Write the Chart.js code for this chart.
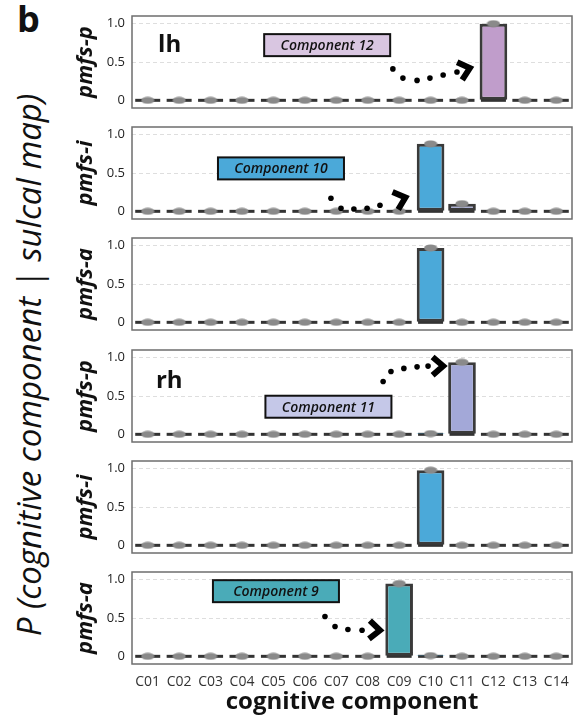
<!DOCTYPE html>
<html lang="en">
<head>
<meta charset="UTF-8">
<title>P (cognitive component | sulcal map)</title>
<script src="https://cdn.jsdelivr.net/npm/chart.js@4.4.0/dist/chart.umd.min.js"></script>
<style>
  html, body { margin: 0; padding: 0; background: #fff; }
  body { width: 580px; height: 717px; position: relative; overflow: hidden; font-family: 'Open Sans', sans-serif; color: #111; }
  canvas.panel { position: absolute; left: 60px; }
  #letter { position: absolute; left: 17px; top: -6px; font: bold 36px 'Open Sans', sans-serif; }
  #ylabel { position: absolute; left: 28px; top: 365px; transform: translate(-50%, -50%) rotate(-90deg);
            white-space: nowrap; font: italic 33px 'Open Sans', sans-serif; }
</style>
</head>
<body>
<div id="letter">b</div>
<div id="ylabel">P (cognitive component | sulcal map)</div>
<canvas class="panel" id="p0" width="520" height="122"></canvas>
<canvas class="panel" id="p1" width="520" height="122"></canvas>
<canvas class="panel" id="p2" width="520" height="122"></canvas>
<canvas class="panel" id="p3" width="520" height="122"></canvas>
<canvas class="panel" id="p4" width="520" height="122"></canvas>
<canvas class="panel" id="p5" width="520" height="160"></canvas>

<script>
// ---- data ----
const categories = ['C01', 'C02', 'C03', 'C04', 'C05', 'C06', 'C07', 'C08', 'C09', 'C10', 'C11', 'C12', 'C13', 'C14'];
const yTicks = [0, 0.5, 1.0];
const sulcusLabels = ['pmfs-p', 'pmfs-i', 'pmfs-a', 'pmfs-p', 'pmfs-i', 'pmfs-a'];

const lhPmfsP = [0, 0, 0, 0, 0, 0, 0, 0, 0, 0, 0, 1.00, 0, 0];
const lhPmfsI = [0, 0, 0, 0, 0, 0, 0, 0, 0, 0.88, 0.10, 0, 0, 0];
const lhPmfsA = [0, 0, 0, 0, 0, 0, 0, 0, 0, 0.97, 0, 0, 0, 0];
const rhPmfsP = [0, 0, 0, 0, 0, 0, 0, 0, 0, 0.01, 0.94, 0, 0, 0];
const rhPmfsI = [0, 0, 0, 0, 0, 0, 0, 0, 0, 0.98, 0, 0, 0, 0];
const rhPmfsA = [0, 0, 0, 0, 0, 0, 0, 0, 0.95, 0.01, 0, 0, 0, 0];
const series = [lhPmfsP, lhPmfsI, lhPmfsA, rhPmfsP, rhPmfsI, rhPmfsA];

// bar colour per cognitive component
const barColors = ['#999', '#999', '#999', '#999', '#999', '#999', '#999', '#999',
                   '#4aabb8', '#4ba9d9', '#a3a8d8', '#c09dcb', '#999', '#999'];

// annotations, in data units (category index, probability)
const notes = [
  { side: { text: 'lh', x: 0.33, y: 0.63 },
    box: { text: 'Component 12', x: 5.71, y: 0.72, fill: '#d9c6e1' },
    dots: [[7.80, 0.41], [8.12, 0.29], [8.57, 0.26], [8.98, 0.29], [9.40, 0.33], [9.84, 0.37]],
    head: { x: 10.25, y: 0.42, angle: -16 } },
  { box: { text: 'Component 10', x: 4.24, y: 0.56, fill: '#4ba9d9' },
    dots: [[5.83, 0.17], [6.15, 0.04], [6.56, 0.03], [6.98, 0.04], [7.39, 0.08]],
    head: { x: 8.20, y: 0.18, angle: -18 } },
  {},
  { side: { text: 'rh', x: 0.26, y: 0.60 },
    box: { text: 'Component 11', x: 5.75, y: 0.36, fill: '#c5c8e8' },
    dots: [[7.49, 0.69], [7.74, 0.82], [8.15, 0.86], [8.57, 0.88], [8.92, 0.89]],
    head: { x: 9.40, y: 0.89, angle: 0 } },
  {},
  { box: { text: 'Component 9', x: 4.08, y: 0.85, fill: '#4aabb8' },
    dots: [[5.64, 0.52], [5.96, 0.39], [6.37, 0.35], [6.82, 0.34]],
    head: { x: 7.39, y: 0.34, angle: 3 } }
];

Chart.defaults.font.family = "'Open Sans', sans-serif";
Chart.defaults.animation = false;

// grey pill used as the point marker
const pill = document.createElement('canvas');
pill.width = 14; pill.height = 8;
(function () {
  const c = pill.getContext('2d');
  c.fillStyle = '#8a8a8a';
  c.beginPath();
  c.ellipse(7, 4, 6.6, 3.4, 0, 0, Math.PI * 2);
  c.fill();
})();

// frame + dashed zero segments under the bars
const framePlugin = {
  id: 'frame',
  beforeDatasetsDraw(chart) {
    const { ctx, chartArea: a, scales: { x, y } } = chart;
    ctx.save();
    ctx.strokeStyle = '#6e6e6e';
    ctx.lineWidth = 1.5;
    ctx.strokeRect(a.left, a.top, a.width, a.height);
    ctx.strokeStyle = '#333';
    ctx.lineWidth = 3;
    const y0 = y.getPixelForValue(0);
    categories.forEach((c, i) => {
      const cx = x.getPixelForValue(i);
      ctx.beginPath();
      ctx.moveTo(cx - 12.5, y0);
      ctx.lineTo(cx + 12.5, y0);
      ctx.stroke();
    });
    ctx.restore();
  }
};

const notesPlugin = {
  id: 'notes',
  afterDatasetsDraw(chart, args, opts) {
    const n = opts.note;
    if (!n) return;
    const { ctx, scales: { x, y } } = chart;
    const px = v => x.getPixelForValue(v);
    const py = v => y.getPixelForValue(v);
    ctx.save();
    if (n.side) {
      ctx.font = "bold 24px 'Open Sans', sans-serif";
      ctx.fillStyle = '#111';
      ctx.textBaseline = 'alphabetic';
      ctx.textAlign = 'left';
      ctx.fillText(n.side.text, px(n.side.x), py(n.side.y));
    }
    if (n.box) {
      const cx = px(n.box.x), cy = py(n.box.y), w = 126, h = 22;
      ctx.fillStyle = n.box.fill;
      ctx.fillRect(cx - w / 2, cy - h / 2, w, h);
      ctx.strokeStyle = '#111';
      ctx.lineWidth = 2;
      ctx.strokeRect(cx - w / 2, cy - h / 2, w, h);
      ctx.fillStyle = '#111';
      ctx.font = "italic 600 14px 'Open Sans', sans-serif";
      ctx.textAlign = 'center';
      ctx.textBaseline = 'middle';
      ctx.fillText(n.box.text, cx, cy + 1);
    }
    if (n.dots) {
      ctx.fillStyle = '#000';
      n.dots.forEach(d => {
        ctx.beginPath();
        ctx.arc(px(d[0]), py(d[1]), 2.8, 0, Math.PI * 2);
        ctx.fill();
      });
    }
    if (n.head) {
      const hx = px(n.head.x), hy = py(n.head.y);
      const ang = n.head.angle * Math.PI / 180, spread = 41 * Math.PI / 180, len = 14;
      ctx.strokeStyle = '#000';
      ctx.lineWidth = 6;
      ctx.lineJoin = 'miter';
      ctx.beginPath();
      ctx.moveTo(hx - len * Math.cos(ang - spread), hy - len * Math.sin(ang - spread));
      ctx.lineTo(hx, hy);
      ctx.lineTo(hx - len * Math.cos(ang + spread), hy - len * Math.sin(ang + spread));
      ctx.stroke();
    }
    ctx.restore();
  }
};

function makePanel(i) {
  const last = i === series.length - 1;
  const canvas = document.getElementById('p' + i);
  canvas.style.top = (Math.round(16 + 111.2 * i) - 15) + 'px';
  const values = series[i];
  new Chart(canvas, {
    type: 'bar',
    data: {
      labels: categories,
      datasets: [
        {
          type: 'line',
          data: values,
          showLine: false,
          pointStyle: pill,
          pointRadius: 4,
          order: 0
        },
        {
          data: values,
          backgroundColor: barColors,
          borderColor: '#3a3a3a',
          borderWidth: ctx => (ctx.raw > 0.02 ? 3 : 0),
          borderSkipped: false,
          barPercentage: 0.88,
          categoryPercentage: 1,
          order: 1
        }
      ]
    },
    options: {
      responsive: false,
      layout: { padding: { top: 15, bottom: last ? 0 : 15, left: 0, right: 8 } },
      plugins: { legend: { display: false }, tooltip: { enabled: false }, notes: { note: notes[i] } },
      scales: {
        x: {
          display: last,
          offset: true,
          afterFit: s => { if (last) s.height = 53; },
          grid: { display: false, drawTicks: false },
          border: { display: false },
          ticks: { padding: 10, autoSkip: false, maxRotation: 0, font: { size: 14 }, color: '#333' },
          title: { display: last, text: 'cognitive component', color: '#111',
                   font: { size: 24, weight: 'bold' }, padding: { top: 0, bottom: 0 } }
        },
        y: {
          min: -0.1,
          max: 1.1,
          afterBuildTicks: s => { s.ticks = yTicks.map(v => ({ value: v })); },
          afterFit: s => { s.width = 72; },
          grid: { drawTicks: false, lineWidth: 1,
                  color: c => (c.tick && c.tick.value === 0 ? 'rgba(0,0,0,0)' : '#dedede') },
          border: { display: false, dash: [4, 3] },
          ticks: { padding: 7, font: { size: 13 }, color: '#222',
                   callback: v => (v === 0 ? '0' : v.toFixed(1)) },
          title: { display: true, text: sulcusLabels[i], color: '#111',
                   font: { size: 22, weight: 'bold', style: 'italic' }, padding: { top: 13, bottom: 0 } }
        }
      }
    },
    plugins: [framePlugin, notesPlugin]
  });
}

series.forEach((s, i) => makePanel(i));
</script>
</body>
</html>
